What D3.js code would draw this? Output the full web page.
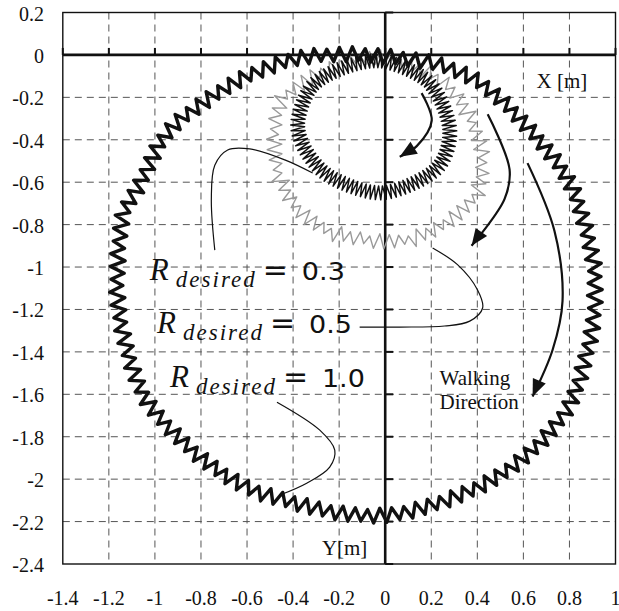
<!DOCTYPE html>
<html>
<head>
<meta charset="utf-8">
<script src="https://cdn.jsdelivr.net/npm/d3@7/dist/d3.min.js"></script>
<style>
body { margin: 0; background: #fff; }
</style>
</head>
<body>
<svg id="chart" width="619" height="611"></svg>
<script>
var svg = d3.select("#chart");
var serif = "'Liberation Serif', 'DejaVu Serif', serif";
var sans = "'DejaVu Sans', sans-serif";

// axis ticks (m)
var xTicks = [-1.4, -1.2, -1, -0.8, -0.6, -0.4, -0.2, 0, 0.2, 0.4, 0.6, 0.8, 1];
var yTicks = [0.2, 0, -0.2, -0.4, -0.6, -0.8, -1, -1.2, -1.4, -1.6, -1.8, -2, -2.2, -2.4];

// centre lines of the walked trajectories [x, y] in m
var pathR10 = [
	[-0.07, 0.00], [0.21, -0.04], [0.41, -0.13], [0.60, -0.32], [0.80, -0.60],
	[0.90, -0.95], [0.91, -1.16], [0.89, -1.34], [0.81, -1.63], [0.68, -1.82],
	[0.54, -1.95], [0.40, -2.04], [0.21, -2.12], [0.01, -2.17], [-0.20, -2.16],
	[-0.40, -2.11], [-0.60, -2.04], [-0.80, -1.90], [-0.98, -1.71], [-1.07, -1.56],
	[-1.14, -1.31], [-1.165, -1.08], [-1.14, -0.76], [-1.07, -0.62], [-0.95, -0.37],
	[-0.77, -0.21], [-0.60, -0.10], [-0.40, -0.02], [-0.24, 0.00]
];
var pathR03 = [
	[-0.01, -0.03], [0.19, -0.13], [0.28, -0.35], [0.22, -0.54], [-0.01, -0.65],
	[-0.23, -0.58], [-0.34, -0.46], [-0.38, -0.32], [-0.32, -0.15], [-0.18, -0.06]
];
var pathR05 = [
	[-0.01, -0.01], [0.24, -0.12], [0.35, -0.26], [0.42, -0.46], [0.40, -0.65],
	[0.28, -0.78], [0.14, -0.86], [-0.01, -0.88], [-0.25, -0.83], [-0.40, -0.70],
	[-0.47, -0.54], [-0.48, -0.35], [-0.44, -0.20], [-0.25, -0.07]
];
// steps per lap and lateral body sway (m): R=1.0, R=0.3, R=0.5
var stepCounts = [118, 95, 62];
var swayAmp = [0.032, 0.03, 0.033];

// walking direction arrows and label leader lines (m)
var arrows = [
	[[0.158, -0.18], [0.202, -0.31], [0.137, -0.43], [0.063, -0.48]],
	[[0.445, -0.28], [0.54, -0.54], [0.518, -0.68], [0.375, -0.90]],
	[[0.618, -0.51], [0.735, -0.83], [0.77, -1.16], [0.727, -1.39], [0.64, -1.61]]
];
var leaders = [
	[[-0.74, -0.92], [-0.755, -0.68], [-0.74, -0.52], [-0.684, -0.448], [-0.588, -0.443], [-0.436, -0.495], [-0.315, -0.557]],
	[[-0.111, -1.283], [0.063, -1.283], [0.258, -1.278], [0.367, -1.255], [0.423, -1.193], [0.401, -1.108], [0.315, -0.99], [0.206, -0.91]],
	[[-0.47, -1.637], [-0.284, -1.769], [-0.219, -1.863], [-0.241, -1.943], [-0.341, -2.019], [-0.458, -2.075]]
];
var labelValues = ["0.3", "0.5", "1.0"];
var labelAnchors = [[-1.022, -1.061], [-0.991, -1.311], [-0.935, -1.566]];

var x = d3.scaleLinear().domain([-1.4, 1]).range([62.8, 615.5]);
var y = d3.scaleLinear().domain([0.2, -2.4]).range([12.5, 564]);

// grid
svg.append("g").selectAll("line")
	.data(xTicks.filter(function(d){ return d != 0 && d != -1.4 && d != 1; }))
	.enter().append("line")
	.attr("x1", function(d){ return x(d); }).attr("x2", function(d){ return x(d); })
	.attr("y1", y(0.2)).attr("y2", y(-2.4))
	.attr("stroke", "#555").attr("stroke-width", 1).attr("stroke-dasharray", "7,5");
svg.append("g").selectAll("line")
	.data(yTicks.filter(function(d){ return d != 0 && d != 0.2 && d != -2.4; }))
	.enter().append("line")
	.attr("y1", function(d){ return y(d); }).attr("y2", function(d){ return y(d); })
	.attr("x1", x(-1.4)).attr("x2", x(1))
	.attr("stroke", "#555").attr("stroke-width", 1).attr("stroke-dasharray", "7,5");

// frame
svg.append("rect")
	.attr("x", x(-1.4)).attr("y", y(0.2))
	.attr("width", x(1) - x(-1.4)).attr("height", y(-2.4) - y(0.2))
	.attr("fill", "none").attr("stroke", "#111").attr("stroke-width", 1.4);

// tick labels
svg.append("g").selectAll("text").data(xTicks).enter().append("text")
	.attr("x", function(d){ return x(d); }).attr("y", 605)
	.attr("text-anchor", "middle").attr("font-family", serif).attr("font-size", 20).attr("fill", "#111")
	.text(function(d){ return String(d); });
svg.append("g").selectAll("text").data(yTicks).enter().append("text")
	.attr("x", 44).attr("y", function(d){ return y(d) + 8; })
	.attr("text-anchor", "end").attr("font-family", serif).attr("font-size", 20).attr("fill", "#111")
	.text(function(d){ return String(d); });

// zero axes with ticks
svg.append("line").attr("x1", x(-1.4)).attr("x2", x(1)).attr("y1", y(0)).attr("y2", y(0))
	.attr("stroke", "#111").attr("stroke-width", 2.6);
svg.append("line").attr("x1", x(0)).attr("x2", x(0)).attr("y1", y(0.2)).attr("y2", y(-2.4))
	.attr("stroke", "#111").attr("stroke-width", 2.6);
svg.append("g").selectAll("line").data(xTicks).enter().append("line")
	.attr("x1", function(d){ return x(d); }).attr("x2", function(d){ return x(d); })
	.attr("y1", y(0) - 7).attr("y2", y(0))
	.attr("stroke", "#111").attr("stroke-width", 2);
svg.append("g").selectAll("line").data(yTicks).enter().append("line")
	.attr("y1", function(d){ return y(d); }).attr("y2", function(d){ return y(d); })
	.attr("x1", x(0)).attr("x2", x(0) + 8)
	.attr("stroke", "#111").attr("stroke-width", 2);

// sway the centre line sideways once per step
function swayLine(pts, n, amp, pattern){
	var guide = svg.append("path")
		.attr("d", d3.line().curve(d3.curveCardinalClosed.tension(0.1))(pts.map(function(p){ return [x(p[0]), y(p[1])]; })))
		.attr("fill", "none");
	var node = guide.node(), L = node.getTotalLength();
	var a = amp * (x(1) - x(0));
	var out = [];
	for(var i = 0; i <= 2 * n; i++){
		var s = L * i / (2 * n);
		var p0 = node.getPointAtLength(Math.max(0, s - 1)), p1 = node.getPointAtLength(Math.min(L, s + 1));
		var p = node.getPointAtLength(s % L);
		var dx = p1.x - p0.x, dy = p1.y - p0.y, len = Math.sqrt(dx * dx + dy * dy) || 1;
		var k = (i % 2 ? -1 : 1) * pattern[Math.floor(i / 2) % pattern.length];
		out.push([p.x - dy / len * a * k, p.y + dx / len * a * k]);
	}
	guide.remove();
	return out;
}

var lineGen = d3.line().curve(d3.curveLinear);
svg.append("path").attr("d", lineGen(swayLine(pathR05, stepCounts[2], swayAmp[2], [1, 0.55, 0.9, 0.7, 1.1, 0.5, 0.8, 0.95])))
	.attr("fill", "none").attr("stroke", "#999").attr("stroke-width", 1.4).attr("stroke-linejoin", "round");
svg.append("path").attr("d", lineGen(swayLine(pathR03, stepCounts[1], swayAmp[1], [1])))
	.attr("fill", "none").attr("stroke", "#111").attr("stroke-width", 1.5).attr("stroke-linejoin", "round");
svg.append("path").attr("d", lineGen(swayLine(pathR10, stepCounts[0], swayAmp[0], [1, 0.8, 0.95])))
	.attr("fill", "none").attr("stroke", "#111").attr("stroke-width", 3.4).attr("stroke-linejoin", "round");

// leader lines
var smooth = d3.line().curve(d3.curveCatmullRom.alpha(0.5))
	.x(function(p){ return x(p[0]); }).y(function(p){ return y(p[1]); });
leaders.forEach(function(l){
	svg.append("path").attr("d", smooth(l)).attr("fill", "none").attr("stroke", "#111").attr("stroke-width", 1.2);
});

// walking direction arrows
arrows.forEach(function(a){
	svg.append("path").attr("d", smooth(a)).attr("fill", "none").attr("stroke", "#111").attr("stroke-width", 2.2);
	var tip = [x(a[a.length - 1][0]), y(a[a.length - 1][1])];
	var prev = [x(a[a.length - 2][0]), y(a[a.length - 2][1])];
	var dx = tip[0] - prev[0], dy = tip[1] - prev[1], len = Math.sqrt(dx * dx + dy * dy);
	dx /= len; dy /= len;
	var bx = tip[0] - dx * 17, by = tip[1] - dy * 17;
	svg.append("path")
		.attr("d", "M" + tip[0] + "," + tip[1] + "L" + (bx - dy * 7) + "," + (by + dx * 7) + "L" + (bx + dy * 7) + "," + (by - dx * 7) + "Z")
		.attr("fill", "#111");
});

// R_desired labels
labelValues.forEach(function(v, i){
	var g = svg.append("g").attr("transform", "translate(" + x(labelAnchors[i][0]) + "," + y(labelAnchors[i][1]) + ")");
	g.append("text").attr("font-family", serif).attr("font-size", 31).attr("font-style", "italic").attr("fill", "#111").text("R");
	g.append("text").attr("x", 26).attr("y", 7).attr("font-family", serif).attr("font-size", 23).attr("font-style", "italic").attr("fill", "#111")
		.attr("textLength", 79).attr("lengthAdjust", "spacing").text("desired");
	g.append("text").attr("x", 113).attr("y", 0).attr("font-family", sans).attr("font-size", 30).attr("fill", "#111").text("=");
	g.append("text").attr("x", 152).attr("y", 0).attr("font-family", sans).attr("font-size", 25).attr("fill", "#111")
		.attr("textLength", 43).attr("lengthAdjust", "spacingAndGlyphs").text(v);
});

// axis names and note
svg.append("text").attr("x", x(0.657)).attr("y", y(-0.156)).attr("font-family", serif).attr("font-size", 21).attr("fill", "#111").text("X [m]");
svg.append("text").attr("x", x(-0.275)).attr("y", y(-2.358)).attr("font-family", serif).attr("font-size", 21).attr("fill", "#111").text("Y[m]");
svg.append("text").attr("x", x(0.236)).attr("y", y(-1.557)).attr("font-family", serif).attr("font-size", 21).attr("fill", "#111").text("Walking");
svg.append("text").attr("x", x(0.236)).attr("y", y(-1.557) + 24).attr("font-family", serif).attr("font-size", 21).attr("fill", "#111").text("Direction");
</script>
</body>
</html>
